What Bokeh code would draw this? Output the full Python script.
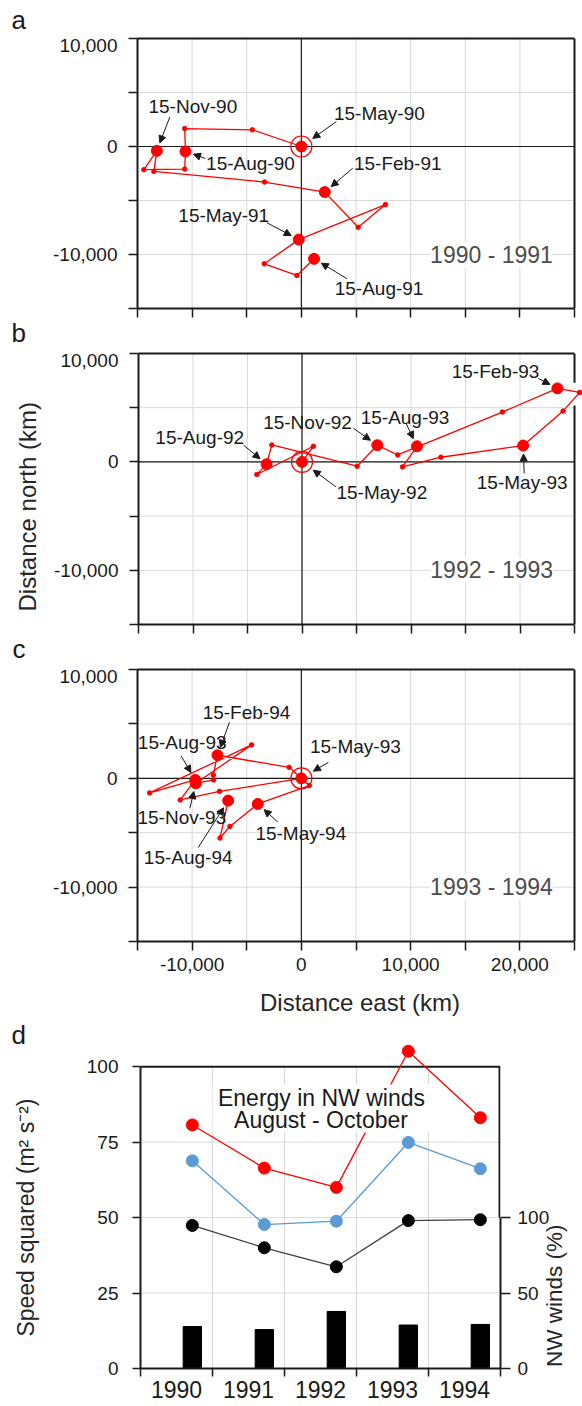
import math

from bokeh.embed import file_html
from bokeh.layouts import column
from bokeh.models import (Arrow, BoxAnnotation, FixedTicker, Label, LinearAxis,
                          NormalHead, Plot, Range1d, Title)
from bokeh.plotting import figure
from bokeh.resources import INLINE

# ------------------------------------------------------------------ data
# Cumulative wind run (km east, km north), monthly from the 15 May start
# to 15 August of the following year.
east_1990 = [0, -4490, -10680, -10610, -10680, -14420, -13230, -13500,
             -3370, 2140, 5200, 7690, -240, -3400, -410, 1160]
north_1990 = [0, 1540, 1660, -460, -2090, -2150, -400, -2310,
              -3290, -4220, -7480, -5380, -8620, -10860, -11940, -10400]
dates_1990 = ["15-May-90", "15-Aug-90", "15-Nov-90",
              "15-Feb-91", "15-May-91", "15-Aug-91"]

east_1992 = [0, 1040, -4140, -3250, -2770, 5060, 6910, 8780,
             18380, 23430, 25470, 23950, 20290, 12740, 9220, 10550]
north_1992 = [0, 1440, -1160, -210, 1560, -400, 1540, 640,
              4600, 6780, 6410, 4690, 1510, 430, -460, 1440]
dates_1992 = ["15-May-92", "15-Aug-92", "15-Nov-92",
              "15-Feb-93", "15-May-93", "15-Aug-93"]

east_1993 = [0, -7490, -11090, -9720, -13890, -4560, -9660, -8040,
             -8060, -7680, -1120, 730, -3990, -6540, -7450, -6700]
north_1993 = [0, -1200, -1990, -150, -1340, 3070, -460, -150,
              310, 2120, 1010, -670, -2360, -4420, -5490, -2050]
dates_1993 = ["15-May-93", "15-Aug-93", "15-Nov-93",
              "15-Feb-94", "15-May-94", "15-Aug-94"]

years = ["1990", "1991", "1992", "1993", "1994"]
energy_nw = [80.7, 66.4, 60.0, 105.1, 83.1]      # red
energy_mid = [68.8, 47.7, 48.8, 74.9, 66.2]      # blue
energy_low = [47.4, 40.0, 33.7, 49.0, 49.3]      # black
nw_share = [27.8, 25.8, 37.8, 28.8, 29.2]        # bars, right axis (%)

# ------------------------------------------------------------------ style
FONT = "Liberation Sans"
INK = "#1a1a1a"
TITLE_INK = "#262626"
RED = "#ff0000"
BLUE = "#5b9bd5"
GRID = "#d9d9d9"
PAGE_W, PAGE_H = 582, 1406
FIG_OPTS = {"frame_align": False} if "frame_align" in Plot.properties() else {}

# trajectory panels
LEFT = 137
SPAN_W = 437                      # pixels between -15,000 and 25,000 km
X0, X1 = -15000, 25000
Y0, Y1 = -15000, 10000
STEP = 5000
TOP_LABEL_DROP = 7                # px the uppermost y label sits below its tick

# date callouts: (text offset px, arrow tail offset px) from each quarterly dot
notes_1990 = [((78, 33), (35, 25)), ((65, -12), (20, -7)), ((36, 44), (13, 34)),
              ((73, 29), (28, 24)), ((-75, 24), (-32, 17)), ((65, -30), (33, -20))]
notes_1992 = [((80, -31), (34, -25)), ((-67, 27), (-23, 19)), ((-70, 23), (-24, 17)),
              ((-62, 17), (-19, 10)), ((-1, -37), (1, -28)), ((-12, 29), (-11, 23))]
notes_1993 = [((54, 32), (27, 16)), ((-13, 37), (-14, 24)), ((-14, -34), (-6, -25)),
              ((29, 43), (12, 33)), ((43, -30), (20, -18)), ((-40, -57), (-30, -47))]


def style_axis(ax, ticks, labels=None, size="19px", standoff=6, tick_out=9):
    ax.ticker = FixedTicker(ticks=ticks)
    if labels is not None:
        ax.major_label_overrides = labels
    ax.axis_line_color = INK
    ax.axis_line_width = 2
    ax.major_tick_line_color = INK
    ax.major_tick_line_width = 1.5
    ax.major_tick_in = 0
    ax.major_tick_out = tick_out
    ax.minor_tick_line_color = None
    ax.major_label_text_font = FONT
    ax.major_label_text_font_size = size
    ax.major_label_text_color = INK
    ax.major_label_standoff = standoff


def marks_as_minor(ax, label_ticks, mark_ticks, tick_out):
    # labels sit on the major ticks, the visible tick marks are the minor ones
    ax.ticker = FixedTicker(ticks=label_ticks, minor_ticks=mark_ticks)
    ax.major_tick_line_color = None
    ax.minor_tick_line_color = INK
    ax.minor_tick_line_width = 1.5
    ax.minor_tick_in = 0
    ax.minor_tick_out = tick_out


def title_axis(text, at, size, standoff, orientation, **kw):
    # a line-less axis whose single tick label carries a rotated axis title
    ax = LinearAxis(**kw)
    style_axis(ax, [at], {at: text}, size=size, standoff=standoff, tick_out=0)
    ax.axis_line_color = None
    ax.major_tick_line_color = None
    ax.major_label_orientation = orientation
    ax.major_label_text_color = TITLE_INK
    return ax


def axis_title(ax, text, size, standoff):
    ax.axis_label = text
    ax.axis_label_standoff = standoff
    ax.axis_label_text_font = FONT
    ax.axis_label_text_font_size = size
    ax.axis_label_text_font_style = "normal"
    ax.axis_label_text_color = TITLE_INK


def add_title(p, text, side, size, offset, standoff, valign, color=INK):
    p.add_layout(Title(text=text, align="left", offset=offset, standoff=standoff,
                       vertical_align=valign, text_font=FONT, text_font_size=size,
                       text_font_style="normal", text_color=color), side)


def add_text(p, x, y, s, size, color=INK, bg=None):
    p.add_layout(Label(x=x, y=y, text=s, text_font=FONT, text_font_size=size,
                       text_color=color, text_align="center", text_baseline="middle",
                       background_fill_color=bg))


def add_arrow(p, x0, y0, x1, y1):
    head = NormalHead(size=7, fill_color=INK, line_color=INK, line_width=1)
    p.add_layout(Arrow(end=head, x_start=x0, y_start=y0, x_end=x1, y_end=y1,
                       line_color=INK, line_width=1))


def base_figure(height, top, bottom, left, right, x_range, y_range):
    p = figure(width=PAGE_W, height=height, x_range=x_range, y_range=y_range,
               title=None, min_border_left=left, min_border_right=right,
               min_border_top=top, min_border_bottom=bottom,
               toolbar_location=None, output_backend="svg",
               background_fill_color="white", border_fill_color="white",
               outline_line_color=None, **FIG_OPTS)
    p.grid.visible = False
    return p


def frame_cap(p, lo, hi):
    cap = LinearAxis(ticker=FixedTicker(ticks=[]), bounds=(lo, hi))
    cap.axis_line_color = INK
    cap.axis_line_width = 2
    cap.major_tick_line_color = None
    cap.minor_tick_line_color = None
    cap.major_tick_out = 0
    cap.major_label_text_font_size = "0px"
    cap.major_label_standoff = 0
    p.add_layout(cap, "above")


def track_panel(east, north, dates, notes, period, top, frame_h, bottom,
                x_labels=False, border_gap=None):
    kx = (X1 - X0) / SPAN_W
    ky = (Y1 - Y0) / frame_h
    p = base_figure(top + frame_h + bottom, top, bottom, LEFT, 0,
                    Range1d(X0, X0 + (PAGE_W - LEFT) * kx), Range1d(Y0, Y1))

    xt = list(range(X0, X1 + 1, STEP))
    yt = list(range(Y0, Y1 + 1, STEP))

    # y axis: labels every 10,000 km, the top one dropped just inside the frame
    yl = [t for t in yt if t % (2 * STEP) == 0]
    ypos = [t - (round(TOP_LABEL_DROP * ky, -1) if t == Y1 else 0) for t in yl]
    yax = p.yaxis[0]
    style_axis(yax, ypos, {pos: f"{t:,}" for pos, t in zip(ypos, yl)}, standoff=11)
    marks_as_minor(yax, ypos, yt, 9)

    xax = p.below[0]
    if x_labels:
        style_axis(xax, xt, {t: (f"{t:,}" if t % (2 * STEP) == 0 else "") for t in xt},
                   standoff=7)
    else:
        style_axis(xax, xt, {t: "" for t in xt}, size="0px", standoff=0)
    xax.bounds = (X0, X1)
    frame_cap(p, X0, X1)

    # grid, zero lines and right-hand frame edge
    gx, gy = xt[1:-1], yt[1:-1]
    p.segment(x0=gx, y0=[Y0] * len(gx), x1=gx, y1=[Y1] * len(gx),
              line_color=GRID, line_width=1)
    p.segment(x0=[X0] * len(gy), y0=gy, x1=[X1] * len(gy), y1=gy,
              line_color=GRID, line_width=1)
    p.segment(x0=[X0, 0], y0=[0, Y0], x1=[X1, 0], y1=[0, Y1],
              line_color=INK, line_width=1.2)
    pieces = [(Y0, Y1)] if border_gap is None else [(Y0, border_gap[0]), (border_gap[1], Y1)]
    p.segment(x0=[X1] * len(pieces), y0=[a for a, _ in pieces],
              x1=[X1] * len(pieces), y1=[b for _, b in pieces],
              line_color=INK, line_width=2)

    # track
    p.line(east, north, line_color=RED, line_width=1.3)
    p.scatter(east, north, size=4.5, color=RED)
    p.scatter(east[::3], north[::3], size=11, color=RED)
    p.scatter(east[:1], north[:1], size=21, fill_color=None,
              line_color=RED, line_width=1.2)

    # date callouts
    for k, (date, ((tdx, tdy), (adx, ady))) in enumerate(zip(dates, notes)):
        ex, ey = east[3 * k], north[3 * k]
        gap = 14 if k == 0 else 8.5
        d = math.hypot(adx, ady)
        add_text(p, ex + tdx * kx, ey + tdy * ky, date, "19px")
        add_arrow(p, ex + adx * kx, ey + ady * ky,
                  ex + adx / d * gap * kx, ey + ady / d * gap * ky)

    add_text(p, X0 + (491 - LEFT) * kx, -2 * STEP, period, "23px",
             color="#4d4d4d", bg="white")
    return p


pa = track_panel(east_1990, north_1990, dates_1990, notes_1990, "1990 - 1991",
                 top=38, frame_h=271, bottom=40)
pb = track_panel(east_1992, north_1992, dates_1992, notes_1992, "1992 - 1993",
                 top=4, frame_h=272, bottom=40, border_gap=(5200, 7300))
pc = track_panel(east_1993, north_1993, dates_1993, notes_1993, "1993 - 1994",
                 top=4, frame_h=272, bottom=79, x_labels=True)

add_title(pa, "a", "above", "26px", offset=11 - LEFT, standoff=4.4, valign="top")
add_title(pa, "b", "below", "26px", offset=11 - LEFT, standoff=0, valign="top")
add_title(pb, "c", "below", "26px", offset=11 - LEFT, standoff=0, valign="top")
add_title(pb, "Distance north (km)", "left", "24px", offset=13, standoff=22,
          valign="bottom", color=TITLE_INK)
axis_title(pc.below[0], "Distance east (km)", "24px", 15)

# ------------------------------------------------------------------ panel d
TOP_D, FRAME_DH, BOTTOM_D = 16, 332, 38
LEFT_D, RIGHT_D = 140, 77
FRAME_DW = PAGE_W - LEFT_D - RIGHT_D
D_FRAME_TOP = PAGE_H - BOTTOM_D - FRAME_DH      # page y of the frame top
Y_TOP = 110
n = len(years)
pd = base_figure(TOP_D + FRAME_DH + BOTTOM_D, TOP_D, BOTTOM_D, LEFT_D, RIGHT_D,
                 Range1d(-0.5, n - 0.5), Range1d(0, Y_TOP))
pd.extra_y_ranges = {"share": Range1d(0, 2 * Y_TOP)}
kxd = n / FRAME_DW
kyd = Y_TOP / FRAME_DH


def atd(sx, page_y):
    return -0.5 + (sx - LEFT_D) * kxd, Y_TOP - (page_y - D_FRAME_TOP) * kyd


xa = pd.xaxis[0]
style_axis(xa, list(range(n)), dict(enumerate(years)), size="23px", standoff=4, tick_out=8)
marks_as_minor(xa, list(range(n)), [i - 0.5 for i in range(n + 1)], 8)

ya = pd.yaxis[0]
style_axis(ya, [0, 25, 50, 75, 100], standoff=14, tick_out=8)
ya.bounds = (0, 100)
# left-hand title, centred on the 0-100 part of the speed axis
pd.add_layout(title_axis("Speed squared (m² s⁻²)", 50, "23px", 44, "parallel"), "left")

ra = LinearAxis(y_range_name="share")
style_axis(ra, [0, 50, 100], standoff=7, tick_out=10)
ra.bounds = (0, 100)
pd.add_layout(ra, "right")
# right-hand title, reading upwards from the foot of the percentage axis
pd.add_layout(title_axis("NW winds (%)", 1, "22.5px", 2, math.pi / 2,
                         y_range_name="share"), "right")

vx = [i + 0.5 for i in range(n - 1)]
hy = [25, 50, 75]
pd.segment(x0=vx, y0=[0] * len(vx), x1=vx, y1=[100] * len(vx), line_color=GRID, line_width=1)
pd.segment(x0=[-0.5] * len(hy), y0=hy, x1=[n - 0.5] * len(hy), y1=hy, line_color=GRID, line_width=1)
# frame top and the right edge above the bounded right-hand axis
edge = n - 0.5 - kxd
pd.segment(x0=[-0.5, edge], y0=[100, 50], x1=[n - 0.5, edge], y1=[100, 100],
           line_color=INK, line_width=2)

xs = [i + 0.22 for i in range(n)]
pd.vbar(x=xs, top=nw_share, width=0.255, y_range_name="share", color="black")
for vals, line_c, dot_c in ((energy_low, "#404040", "black"),
                            (energy_mid, BLUE, BLUE),
                            (energy_nw, RED, RED)):
    pd.line(xs, vals, line_color=line_c, line_width=1.3)
    pd.scatter(xs, vals, size=12, color=dot_c)

# white box behind the two-line caption
bl, bt = atd(213, 1084)
br, bb = atd(434, 1132)
pd.add_layout(BoxAnnotation(left=bl, right=br, top=bt, bottom=bb,
                            fill_color="white", fill_alpha=1.0, line_color=None))
ex1, ey1 = atd(323.5, 1097)
ex2, ey2 = atd(323, 1119)
add_text(pd, ex1, ey1, "Energy in NW winds", "23px")
add_text(pd, ex2, ey2, "August - October", "23px")
add_title(pd, "d", "above", "26px", offset=11 - LEFT_D, standoff=-27, valign="bottom")

layout = column(pa, pb, pc, pd, spacing=0)
open("out.html", "w").write(file_html(layout, INLINE))
